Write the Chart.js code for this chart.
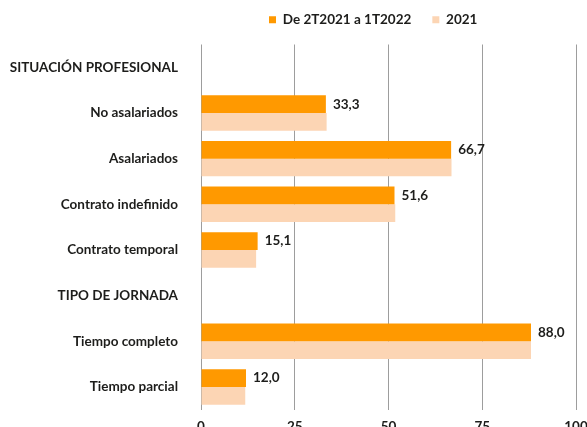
<!DOCTYPE html>
<html lang="es">
<head>
<meta charset="utf-8">
<title>Situación profesional y tipo de jornada</title>
<script src="https://cdn.jsdelivr.net/npm/chart.js@4.4.1/dist/chart.umd.min.js"></script>
<style>
    html, body { margin: 0; padding: 0; background: #fff; overflow: hidden; }
    #contenedor { position: relative; width: 600px; height: 444px; }
</style>
</head>
<body>
<div id="contenedor"><canvas id="graficoJornada"></canvas></div>
<script>
const categorias = ['SITUACIÓN PROFESIONAL', 'No asalariados', 'Asalariados', 'Contrato indefinido', 'Contrato temporal', 'TIPO DE JORNADA', 'Tiempo completo', 'Tiempo parcial'];
const nombresSeries = ['De 2T2021 a 1T2022', '2021'];
const valoresPeriodo = [null, 33.3, 66.7, 51.6, 15.1, null, 88.0, 12.0];
const valores2021 = [null, 33.5, 66.8, 51.8, 14.7, null, 88.0, 11.8];
const ticksEje = [0, 25, 50, 75, 100];

const colorNaranja = '#ff9900';
const colorMelocoton = '#fcd5b4';
const colorTexto = '#1d1d1b';
const fuente = 'Lato, "Open Sans", sans-serif';

Chart.defaults.font.family = fuente;
Chart.defaults.font.size = 13.5;
Chart.defaults.font.weight = 'bold';
Chart.defaults.color = colorTexto;

// Etiquetas de valor al final de las barras naranjas
const etiquetasValor = {
    id: 'etiquetasValor',
    afterDatasetsDraw(chart) {
        const ctx = chart.ctx;
        const meta = chart.getDatasetMeta(0);
        ctx.save();
        ctx.font = 'bold 13.5px ' + fuente;
        ctx.fillStyle = colorTexto;
        ctx.textAlign = 'left';
        ctx.textBaseline = 'middle';
        meta.data.forEach((barra, i) => {
            const valor = valoresPeriodo[i];
            if (valor === null) return;
            ctx.fillText(valor.toFixed(1).replace('.', ','), barra.x + 7, barra.y);
        });
        ctx.restore();
    }
};

// Coloca la leyenda donde está en el original (encima de la zona derecha)
const moverLeyenda = {
    id: 'moverLeyenda',
    afterLayout(chart) {
        const leyenda = chart.legend;
        const pad = leyenda.options.labels.padding;
        const ancho = leyenda.right - leyenda.left;
        const alto = leyenda.bottom - leyenda.top;
        leyenda.left = 269 - pad;
        leyenda.right = leyenda.left + ancho;
        leyenda.top = -8;
        leyenda.bottom = leyenda.top + alto;
    }
};

const ctx = document.getElementById('graficoJornada').getContext('2d');

new Chart(ctx, {
    type: 'bar',
    data: {
        labels: categorias,
        datasets: [{
            label: nombresSeries[0],
            data: valoresPeriodo,
            backgroundColor: colorNaranja,
            borderWidth: 0
        }, {
            label: nombresSeries[1],
            data: valores2021,
            backgroundColor: colorMelocoton,
            borderWidth: 0
        }]
    },
    options: {
        indexAxis: 'y',
        responsive: true,
        maintainAspectRatio: false,
        animation: false,
        categoryPercentage: 0.775,
        barPercentage: 1,
        layout: {
            padding: { left: 0, right: 24, top: 0, bottom: 0 }
        },
        plugins: {
            legend: {
                position: 'top',
                align: 'start',
                maxHeight: 46,
                labels: {
                    boxWidth: 7,
                    boxHeight: 7,
                    padding: 21,
                    color: colorTexto,
                    font: { size: 13.5, weight: 'bold' }
                }
            },
            tooltip: { enabled: false }
        },
        scales: {
            x: {
                min: 0,
                max: 100,
                afterBuildTicks: (escala) => {
                    escala.ticks = ticksEje.map(v => ({ value: v }));
                },
                grid: {
                    color: '#9d9d9d',
                    lineWidth: 1,
                    drawTicks: false
                },
                border: { display: false },
                ticks: {
                    padding: 9,
                    color: colorTexto,
                    font: { size: 13.5, weight: 'bold' }
                }
            },
            y: {
                grid: { display: false, drawTicks: false },
                border: { display: false },
                afterFit: (escala) => {
                    escala.width = 201;
                },
                ticks: {
                    padding: 23,
                    autoSkip: false,
                    color: colorTexto,
                    font: { size: 13.5, weight: 'bold' }
                }
            }
        }
    },
    plugins: [etiquetasValor, moverLeyenda]
});
</script>
</body>
</html>
